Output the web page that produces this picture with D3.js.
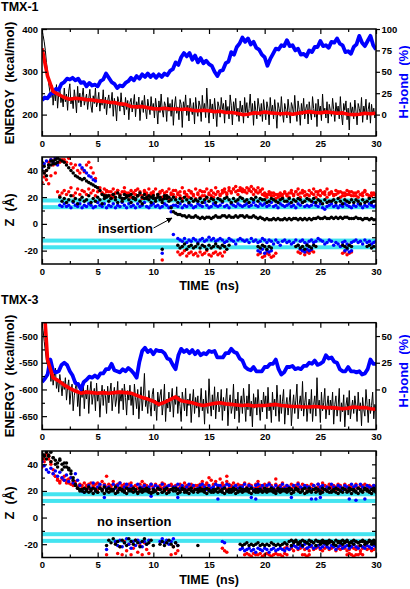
<!DOCTYPE html>
<html><head><meta charset="utf-8">
<script src="https://cdn.jsdelivr.net/npm/d3@7"></script>
<style>
body{margin:0;background:#fff}
svg{display:block}
text{font-family:"Liberation Sans",Arial,Helvetica,sans-serif;font-weight:bold;white-space:pre}
</style></head><body>
<svg id="c" width="410" height="589"></svg>
<script>
// ---------------- DATA ----------------
const timeTicks = [0,5,10,15,20,25,30];
const timeMinor = [2.5,7.5,12.5,17.5,22.5,27.5];
const RAW_STEP = 0.1;  // ns, raw energy traces
const STEP = 0.2;      // ns, Z tracks
const HB_STEP = 0.25;  // ns, H-bond trace
const SM_STEP = 0.5;   // ns, smoothed energy

// TMX-1 energy (kcal/mol), raw trace
const e1Raw = [398,385,370,350,322,300,272,255,240,268,222,258,232,270,215,248,262,228,245,218,
 262,230,248,210,255,272,225,240,214,258,236,204,266,228,250,218,241,262,222,235,
 248,212,238,259,220,205,244,226,262,218,230,252,208,236,222,258,214,241,200,233,
 246,215,228,252,196,238,220,185,242,230,208,251,218,226,199,240,212,233,188,228,
 238,206,224,247,195,230,214,241,186,222,233,205,245,212,190,236,218,200,242,210,
 226,192,238,215,178,232,205,248,212,194,230,221,184,240,208,226,196,235,175,220,
 242,203,218,188,235,224,170,230,210,246,198,222,185,238,215,200,228,178,240,212,
 196,232,220,184,245,208,226,193,262,215,180,236,204,225,190,238,210,172,230,218,
 194,240,212,226,180,234,205,219,190,246,222,176,230,208,238,196,215,184,232,206,
 222,180,240,205,228,192,214,248,200,226,175,232,210,190,238,218,196,226,184,235,
 210,188,230,215,176,240,204,222,190,235,208,168,228,214,196,242,205,182,226,212,
 192,236,210,180,228,218,198,245,206,184,232,212,175,226,200,238,190,215,224,178,
 230,206,188,242,214,194,226,172,236,208,220,186,248,202,215,192,230,180,224,210,
 196,238,212,184,228,205,220,190,242,200,176,226,210,232,188,215,164,228,204,218,
 190,234,208,176,226,214,198,240,182,220,206,236,188,212,228,180,224,200,215,192,
 205];
// TMX-1 energy, running average
const e1Smooth = [355,290,254,247,240,236,238,237,235,234,
 232,231,229,228,225,224,219,218,219,216,
 214,213,215,213,213,212,213,210,209,210,
 209,207,208,205,205,203,200,201,204,203,
 206,204,203,202,203,201,203,205,207,205,
 204,206,205,203,204,201,200,201,203,202,203];
// TMX-1 H-bond (%)
const h1 = [17,20,19,24, 25,30,29,36, 38,42,41,43, 40,42,37,38, 33,37,34,35,
 33,39,41,48, 43,38,36,31, 34,33,37,39, 43,40,45,42, 47,44,48,44,
 47,43,47,44, 48,46,51,53, 61,58,67,72, 68,72,64,69, 61,66,60,63,
 59,57,50,45, 51,52,60,62, 73,70,79,83, 90,85,89,82, 85,78,76,70,
 67,57,65,71, 77,76,81,80, 87,80,81,75, 77,70,71,68, 75,73,79,79,
 86,80,81,78, 85,84,89,83, 81,73,74,71, 79,82,92,84, 80,86,92,81, 76];

// TMX-3 energy (kcal/mol), raw trace
const e3Raw = [-476,-490,-510,-528,-545,-555,-570,-548,-585,-562,-592,-575,-560,-598,-580,-605,-572,-590,-612,-585,
 -600,-578,-620,-595,-582,-628,-605,-590,-640,-612,-598,-585,-632,-608,-650,-595,-615,-588,-636,-602,
 -618,-592,-645,-605,-585,-628,-610,-598,-640,-588,-622,-604,-652,-615,-592,-630,-600,-612,-645,-594,
 -625,-605,-588,-640,-612,-596,-632,-618,-585,-645,-608,-622,-598,-638,-590,-615,-648,-602,-620,-592,
 -630,-605,-648,-590,-615,-636,-600,-655,-620,-595,-640,-612,-570,-632,-618,-645,-602,-628,-650,-610,
 -598,-640,-620,-658,-605,-632,-612,-600,-648,-626,-590,-660,-618,-635,-605,-642,-622,-598,-652,-615,
 -628,-595,-645,-612,-632,-660,-605,-622,-640,-598,-650,-618,-630,-608,-662,-625,-600,-645,-615,-635,
 -612,-652,-628,-598,-640,-618,-665,-602,-632,-645,-580,-625,-650,-610,-638,-595,-655,-622,-605,-642,
 -630,-600,-658,-615,-640,-622,-598,-668,-625,-610,-645,-632,-590,-655,-618,-640,-605,-662,-628,-612,
 -645,-598,-625,-660,-612,-638,-590,-650,-622,-670,-608,-635,-615,-648,-600,-630,-658,-620,-642,-605,
 -632,-612,-655,-596,-640,-625,-662,-605,-638,-618,-650,-592,-628,-660,-610,-645,-622,-600,-665,-630,
 -615,-648,-625,-600,-668,-632,-610,-645,-620,-590,-655,-628,-612,-640,-585,-650,-625,-605,-660,-632,
 -618,-645,-600,-660,-628,-612,-650,-578,-635,-620,-662,-605,-640,-625,-598,-655,-630,-612,-648,-620,
 -638,-605,-665,-628,-612,-650,-632,-598,-660,-625,-642,-610,-670,-630,-615,-648,-602,-655,-635,-620,
 -645,-612,-632,-660,-605,-640,-625,-668,-615,-638,-650,-600,-628,-662,-618,-645,-630,-605,-655,-628,
 -640];
const e3Smooth = [-380,-545,-578,-584,-592,-598,-603,-607,-605,-606,
 -607,-606,-607,-606,-605,-606,-607,-611,-615,-618,
 -622,-628,-624,-619,-614,-621,-623,-625,-628,-630,
 -628,-626,-625,-627,-628,-629,-630,-629,-631,-630,
 -630,-629,-628,-630,-631,-632,-632,-633,-633,-632,
 -633,-634,-634,-635,-636,-635,-633,-634,-634,-636,-637];
const h3 = [7,10,14,28, 17,16,17,23, 25,23,17,13, 6,5,0,7, 9,12,11,13,
 11,15,15,19, 19,24,18,17, 16,19,17,20, 18,15,11,26, 36,39,35,37,
 33,37,36,36, 34,29,28,23, 19,32,38,35, 37,34,37,33, 36,32,34,33,
 36,35,36,30, 30,30,34,34, 38,35,34,29, 27,21,19,18, 21,17,17,17,
 21,21,24,24, 28,19,14,16, 21,21,22,19, 20,19,22,22, 25,24,27,23,
 24,26,32,29, 30,26,25,19, 17,17,21,17, 17,16,17,14, 15,19,28,24, 24];

const e1Ticks = [400,300,200], e1Minor = [350,250];
const h1Ticks = [0,25,50,75,100];
const e3Ticks = [-500,-550,-600,-650], e3Minor = [-525,-575,-625];
const h3Ticks = [0,25,50];
const zTicks = [40,20,0,-20], zMinor = [30,10,-10];
const zAll = [-20,-10,0,10,20,30,40];
const membraneBands = [[16,19],[11,14],[-14,-11],[-19,-16]];

// TMX-1 Z (Å) tracks: {t0 (ns), z values every STEP}
const z1Red = [
 {t0:0, z:[44,38,33,30,36,44,38,24,21,23, 25,22,24,27,21,23,26,22,25,24, 22,26,23,25,21,24,27,23,22,25,
  24,21,26,23,25,22,24,27,23,21, 25,23,22,26,24,21,25,23,26,22, 24,26,22,23,25,21,24,26,23,22,
  25,22,24,27,23,21,25,24,22,26, 23,25,21,24,26,22,25,23,27,24, 22,25,26,23,27,24,26,28,25,27,
  26,24,27,25,28,26,24,27,25,26, 23,22,24,21,23,22,20,23,22,24, 21,23,25,22,24,26,23,25,24,22,
  25,23,26,24,22,25,23,24,26,23, 24,22,25,23,24,21,23,25,22,24, 23,21,24,22,23,25,22,21,23,22, 22]},
 {t0:0, z:[31,35,40,46,48,47,49,45,46,48, 48,46,49,45,42,44,40,38,41,39, 44,46,42,38,34,27,25,23,26,24,
  21,24,20,23,25,22,19,24,21,23, 20,23,25,21,22,19,24,22,20,23, 22,19,21,24,20,23,21,19,22,25,
  20,23,21,19,24,22,20,23,21,19, 22,20,24,21,19,23,21,20,22,24, 21,23,24,22,25,23,26,24,22,25,
  24,25,23,26,24,22,25,23,24,22, 21,20,22,23,21,19,22,21,20,23, 22,20,23,21,24,22,20,23,21,22,
  21,23,22,20,24,21,23,22,20,22, 23,21,22,24,20,23,21,22,24,21, 21,23,20,22,21,24,22,20,21,23, 21]},
 {t0:12.2, z:[-21,-23,-22,-20,-24,-22,-21,-23,-22,-24,-21,-23,-22,-20,-23,-24,-22,-21,-23,-22,-24,-21]},
 {t0:19.4, z:[-23,-22,-25,-24,-22,-23,-25,-24,-22]},
 {t0:23.0, z:[-21,-22,-20,-23,-21,-22,-20,-21]},
 {t0:27.0, z:[-22,-21,-23,-22,-21]},
 {t0:10.8, z:[-27]}
];
const z1Black = [
 {t0:0, z:[46,43,40,44,47,45,48,46,20,17, 19,16,18,21,17,19,15,18,20,17, 18,21,16,19,17,20,18,15,19,21,
  17,19,22,18,16,20,17,19,21,18, 16,19,18,21,17,15,19,20,18,16, 19,17,20,18,16,19,21,17,18,20,
  18,16,19,17,20,18,16,19,17,18, 17,19,16,18,20,17,19,18,16,19, 18,17,19,20,18,16,19,17,18,20,
  19,17,18,16,19,18,20,17,19,18, 18,16,17,19,18,17,16,18,19,17, 17,19,16,18,17,19,18,16,17,19,
  18,17,19,16,18,17,15,18,16,17, 17,18,16,19,17,15,18,17,16,18, 16,18,17,15,18,16,17,19,16,17, 17]},
 {t0:0, z:[40,38,36,42,44,47,45,49,48,47, 46,44,42,40,38,36,35,34,33,34, 32,31,30,29,28,27,25,22,21,20,
  21,19,22,20,23,21,19,22,20,21, 22,20,19,21,23,20,22,19,21,20, 21,19,22,20,18,21,19,20,12,9,
  8,7,7,6,6,5,6,5,5,6, 5,4,5,4,5,5,4,5,6,5, 5,6,6,5,6,5,5,6,5,6,
  6,5,6,5,5,6,5,4,5,4, 3,4,3,3,4,3,4,3,3,4, 3,4,3,4,4,3,4,3,4,3,
  4,3,4,4,5,4,4,5,4,4, 5,4,5,4,5,4,5,5,4,4, 4,5,4,4,3,4,4,3,4,3, 3]},
 {t0:12.2, z:[-16,-18,-17,-15,-19,-17,-16,-18,-17,-15,-18,-16,-17,-19,-16,-18,-17,-15,-17,-18,-16,-17,-19,-16]},
 {t0:19.4, z:[-17,-18,-16,-17,-19,-17,-18]},
 {t0:22.8, z:[-17,-16,-18,-17,-19,-16,-17,-18,-16,-17]},
 {t0:27.0, z:[-16,-17,-18,-16,-17]},
 {t0:29.2, z:[-17,-16,-18,-17]},
 {t0:10.8, z:[-19]}
];
const z1Blue = [
 {t0:0, z:[42,45,47,44,48,46,49,44,14,13, 15,13,14,12,16,14,13,15,12,14, 13,15,14,12,13,16,14,13,15,12,
  14,13,15,12,14,13,16,14,12,15, 13,14,12,15,13,14,16,13,12,14, 15,13,14,12,13,15,14,12,13,14,
  14,13,15,12,14,13,15,14,12,13, 15,14,13,16,14,12,13,15,14,13, 14,16,13,14,12,15,14,13,15,14,
  13,14,15,13,14,16,14,13,15,14, 15,13,14,16,13,14,12,15,14,13, 14,15,13,14,12,15,14,16,13,14,
  13,14,16,14,13,15,12,11,13,14, 15,13,14,12,14,13,15,14,13,12, 14,13,15,14,12,14,13,15,14,13, 14]},
 {t0:12.2, z:[-11,-12,-13,-11,-14,-12,-13,-11,-12,-14, -12,-11,-13,-12,-10,-12,-11,-13,-12,-11,
  -12,-14,-13,-11,-12,-13,-15,-12,-11,-12, -13,-12,-14,-11,-13,-12,-14,-13,-11,-12,
  -14,-12,-13,-15,-12,-14,-16,-13,-12,-14, -13,-15,-14,-12,-16,-13,-12,-14,-15,-13,
  -12,-14,-13,-11,-12,-13,-15,-14,-12,-13, -16,-14,-15,-17,-14,-13,-15,-16,-14,-13,
  -12,-14,-13,-15,-12,-14,-13,-15,-14,-13]},
 {t0:3.4, z:[44,42,40,38,36,35,33,32]},
 {t0:19.4, z:[-20,-21,-19,-22,-20,-21,-20]},
 {t0:23.2, z:[-19,-20,-21,-19,-20,-19]},
 {t0:27.2, z:[-20,-19,-21,-20]},
 {t0:10.8, z:[-22]},
 {t0:11.6, z:[9,-8]}
];

// TMX-3 Z (Å) tracks
const z3Red = [
 {t0:0, z:[45,42,47,44,40,36,31,29,27,30, 28,26,29,25,24,27,23,25,22,26, 24,22,26,23,25,21,24,27,23,22,
  25,23,27,24,22,26,23,25,24,22, 26,23,24,22,25,27,23,24,22,25, 23,25,22,24,26,23,21,24,25,23,
  24,22,25,23,26,24,22,25,23,24, 23,25,27,24,26,30,28,25,27,24, 29,26,24,27,25,23,26,24,25,23,
  24,26,23,25,24,22,25,27,24,23, 25,23,26,24,22,25,23,24,26,23, 24,22,25,23,24,26,23,25,22,24,
  23,25,24,22,25,23,26,24,23,25, 24,22,23,25,24,22,25,23,24,22, 23,25,22,24,23,25,22,24,23,24, 23]},
 {t0:0, z:[38,44,48,46,42,33,31,28,26,29, 31,28,26,30,27,25,23,21,24,22, 23,25,21,24,22,26,23,21,25,23,
  22,24,21,23,25,22,24,21,23,25, 23,21,24,22,20,23,25,22,21,24, 22,24,21,23,22,25,23,21,24,22,
  23,21,24,22,23,21,24,23,22,21, 24,22,23,21,25,23,22,24,21,23, 22,24,23,21,22,24,21,23,22,24,
  23,21,22,24,23,21,22,23,24,21, 22,24,21,23,22,21,23,24,22,21, 23,21,22,24,21,23,22,21,23,22,
  21,22,24,21,23,22,21,24,22,23, 22,24,21,23,22,21,23,22,21,23, 21,23,22,21,24,22,21,23,22,21, 22]},
 {t0:5.8, z:[-28]},
 {t0:6.6, z:[-19,-27,-22,-28,-18,-25,-20,-28,-23,-17,-26,-21,-28,-19,-24,-27]},
 {t0:11.6, z:[-28,-22,-27,-25]},
 {t0:16.2, z:[-23,-25,-26]},
 {t0:18.2, z:[-28,-27,-28,-29,-27,-28,-28,-27,-29,-28,-27,-28,-29,-28,-27,-28,-28,-29,-27,-28]},
 {t0:21.8, z:[-23,-22,-24,-23,-25,-22,-24,-23,-22,-24, -23,-25,-22,-24,-23,-22,-24,-25,-23,-22,
  -24,-23,-22,-25,-23,-24,-22,-23,-25,-24, -22,-23,-24,-22,-25,-23,-22,-24,-23,-25, -24,-22]},
 {t0:23.4, z:[-28,-28,-29,-28]},
 {t0:27.4, z:[-28,-27,-28,-29,-28,-28,-27,-28]},
 {t0:5.8, z:[31]}, {t0:16.6, z:[31]}, {t0:21.0, z:[29]}
];
const z3Black = [
 {t0:0, z:[48,46,44,47,49,45,43,41,44,40, 38,41,37,35,30,25,22,20,21,19, 20,19,21,18,20,19,22,20,18,21,
  19,21,20,18,19,21,20,19,18,20, 21,19,20,18,20,19,21,20,19,18, 19,20,18,21,19,20,18,19,21,20,
  20,18,19,21,19,20,18,20,19,21, 19,20,21,19,18,20,19,21,20,19, 20,19,18,20,21,19,20,18,19,20,
  19,21,20,19,18,20,19,21,20,19, 20,19,21,20,19,18,20,19,21,20, 19,20,18,19,21,20,19,20,18,19,
  20,19,21,19,20,18,19,21,20,19, 19,20,19,18,20,19,21,19,20,18, 20,19,18,20,19,21,20,19,18,20, 19]},
 {t0:0, z:[44,47,49,46,42,45,40,38,43,36, 41,38,36,33,28,24,22,21,20,22, 21,23,20,22,21,19,22,21,23,20,
  22,20,21,23,20,22,21,20,22,21, 20,22,21,19,22,21,20,22,21,19, 21,20,22,21,19,21,22,20,21,22,
  22,21,20,22,21,19,21,22,20,21, 21,22,20,21,22,21,20,19,21,22, 20,21,22,20,19,21,22,21,20,22,
  21,20,22,21,22,20,21,19,21,20, 22,21,20,22,21,20,22,21,20,21, 21,22,21,20,22,21,19,21,22,20,
  22,20,21,22,21,20,22,21,20,22, 20,21,22,21,20,22,21,20,22,21, 21,20,22,21,20,22,21,20,21,22, 21]},
 {t0:5.8, z:[-21,-17,-19,-16,-20,-18,-22,-17,-19,-21,-16,-18,-20,-17,-19,-22,-18,-16,-20,-19,-17,-21]},
 {t0:10.6, z:[-20,-18,-21,-19,-17,-20,-22,-19,-21]},
 {t0:14.0, z:[-21]},
 {t0:17.8, z:[-20,-21,-20,-19,-21,-20,-21,-20,-19,-21, -20,-21,-20,-21,-19,-20,-21,-20,-21,-20,
  -19,-20,-18,-21,-19,-18,-20,-19,-21,-18, -19,-20,-18,-19,-21,-18,-20,-19,-18,-20,
  -19,-18,-20,-21,-19,-18,-20,-19,-18,-21, -19,-20,-18,-19,-21,-18,-20,-19,-18,-20, -19,-20]},
 {t0:22.4, z:[-17,-18,-17,-19,-18,-17,-18,-19,-17,-18, -19,-17,-18,-18,-17,-19,-18,-17,-18,-19,
  -17,-18,-19,-17,-18,-17,-19,-18,-17,-18, -19,-18,-17,-18,-19,-17,-18,-17,-18]}
];
const z3Blue = [
 {t0:0, z:[42,39,36,34,37,33,35,31,34,30, 28,32,27,30,26,33,28,24,20,19, 21,24,22,26,20,23,25,21,24,22,
  23,21,25,22,24,26,21,23,25,22, 24,22,21,25,23,22,24,21,23,25, 22,24,23,21,25,22,23,24,21,23,
  23,25,22,24,21,23,25,22,24,21, 22,24,25,23,21,24,22,23,25,24, 24,22,23,25,24,21,23,24,22,23,
  23,25,22,24,23,21,24,25,22,24, 22,24,25,23,22,24,21,23,25,22, 24,23,21,24,22,25,23,22,24,23,
  23,21,24,22,25,23,24,21,23,22, 25,23,22,24,23,21,24,23,22,25, 23,24,22,25,23,22,24,23,22,24, 23]},
 {t0:5.8, z:[-24]},
 {t0:6.6, z:[-18,-21,-17,-22,-19,-16,-20,-23,-18,-21,-17,-19,-22,-18,-20,-17]},
 {t0:10.6, z:[-18,-16,-19,-17,-20,-18,-16,-19,-21]},
 {t0:16.2, z:[-18,-19]},
 {t0:17.8, z:[-24,-23,-25,-24,-23,-25,-24,-26,-23,-24,-25,-23,-24,-26,-24,-23,-25,-24,-23,-24,-25,-23,-24,-22]},
 {t0:22.6, z:[-21,-22,-23,-21,-22,-20,-23,-22,-21,-23, -22,-21,-23,-22,-20,-22,-23,-21,-22,-24,
  -22,-21,-23,-22,-21,-23,-22,-20,-22,-23, -21,-22,-23,-21,-22,-23,-21,-22]},
 {t0:5.6, z:[15]}, {t0:9.8, z:[16]}, {t0:12.2, z:[15]}, {t0:15.8, z:[14]}, {t0:18.8, z:[15]},
 {t0:19.2, z:[14]}, {t0:22.4, z:[15]}, {t0:24.2, z:[14]}, {t0:24.6, z:[14]}, {t0:25.0, z:[15]},
 {t0:27.6, z:[14]}, {t0:28.2, z:[13]}, {t0:29.0, z:[14]}
];

// ---------------- DRAWING ----------------
const RED = "#ff0000", BLUE = "#0000ff", CYAN = "#44e4f0";
const svg = d3.select("#c");
const x = d3.scaleLinear().domain([0, 30]).range([42, 376]);
const [X0, X1] = x.range();
const defs = svg.append("defs");
defs.append("marker").attr("id","arr").attr("viewBox","0 0 10 10").attr("refX",9).attr("refY",5)
  .attr("markerWidth",6).attr("markerHeight",6).attr("orient","auto").attr("markerUnits","userSpaceOnUse")
  .append("path").attr("d","M0,0L10,5L0,10z").attr("fill","#000");

function panel(id, top, bottom, dom) {
  const y = d3.scaleLinear().domain(dom).range([bottom, top]);
  defs.append("clipPath").attr("id", "cp" + id).append("rect")
    .attr("x", X0).attr("y", top).attr("width", X1 - X0).attr("height", bottom - top);
  const plot = svg.append("g").attr("clip-path", `url(#cp${id})`);
  return { y, plot, top, bottom };
}
function ax(gen, tx, ty, fs) {
  const g = svg.append("g").attr("transform", `translate(${tx},${ty})`).call(gen);
  g.select(".domain").remove();
  g.attr("font-size", fs || 9.5);
  g.selectAll("line").attr("stroke-width", 1.2);
  return g;
}
function frame(p, leftMajor, leftMinor, rightZ) {
  const fmt = d => String(d);
  ax(d3.axisBottom(x).tickValues(timeTicks).tickSize(-5).tickPadding(4).tickFormat(fmt), 0, p.bottom);
  ax(d3.axisBottom(x).tickValues(timeMinor).tickSize(-3).tickFormat(""), 0, p.bottom);
  ax(d3.axisTop(x).tickValues(timeTicks).tickSize(-5).tickFormat(""), 0, p.top);
  ax(d3.axisTop(x).tickValues(timeMinor).tickSize(-3).tickFormat(""), 0, p.top);
  ax(d3.axisLeft(p.y).tickValues(leftMajor).tickSize(-5).tickPadding(4).tickFormat(fmt), X0, 0);
  ax(d3.axisLeft(p.y).tickValues(leftMinor).tickSize(-3).tickFormat(""), X0, 0);
  if (rightZ) ax(d3.axisRight(p.y).tickValues(rightZ).tickSize(-4).tickFormat(""), X1, 0);
  svg.append("rect").attr("x", X0).attr("y", p.top).attr("width", X1 - X0).attr("height", p.bottom - p.top)
    .attr("fill", "none").attr("stroke", "#000").attr("stroke-width", 1.5);
}
function trace(p, yS, data, step, color, w) {
  p.plot.append("path").datum(data)
    .attr("d", d3.line().x((d, i) => x(i * step)).y(d => yS(d)))
    .attr("fill", "none").attr("stroke", color).attr("stroke-width", w)
    .attr("stroke-linejoin", "round");
}
function dots(p, tracks, color) {
  const pts = [];
  tracks.forEach(s => s.z.forEach((v, i) => pts.push([s.t0 + i * STEP, v])));
  p.plot.append("g").selectAll("circle").data(pts).join("circle")
    .attr("cx", d => x(d[0])).attr("cy", d => p.y(d[1])).attr("r", 1.75).attr("fill", color);
}
function bands(p) {
  p.plot.append("g").selectAll("rect").data(membraneBands).join("rect")
    .attr("x", X0).attr("width", X1 - X0)
    .attr("y", d => p.y(d[1])).attr("height", d => p.y(d[0]) - p.y(d[1])).attr("fill", CYAN);
}
function energyPanel(id, top, bottom, dom, hDom, raw, smooth, hb, eTicks, eMinor, hTicks) {
  const p = panel(id, top, bottom, dom);
  const y2 = d3.scaleLinear().domain(hDom).range([bottom, top]);
  trace(p, p.y, raw, RAW_STEP, "#000", 1);
  trace(p, y2, hb, HB_STEP, BLUE, 3.8);
  trace(p, p.y, smooth, SM_STEP, RED, 3.6);
  frame(p, eTicks, eMinor, null);
  ax(d3.axisRight(y2).tickValues(hTicks).tickSize(4).tickPadding(1.5).tickFormat(d => String(d)), X1, 0);
  return p;
}
function zPanel(id, top, bottom, red, black, blue) {
  const p = panel(id, top, bottom, [-30, 50]);
  bands(p);
  dots(p, red, RED);
  dots(p, blue, BLUE);
  dots(p, black, "#000");
  frame(p, zTicks, zMinor, zAll);
  return p;
}
function vlabel(txt, cx, cy, color) {
  svg.append("text").attr("transform", `translate(${cx},${cy}) rotate(-90)`)
    .attr("text-anchor", "middle").attr("font-size", 13).attr("fill", color || "#000").text(txt);
}

// TMX-1
svg.append("text").attr("x", 1).attr("y", 10.5).attr("font-size", 12.5).text("TMX-1");
energyPanel(1, 29, 136, [150, 400], [-25, 100], e1Raw, e1Smooth, h1, e1Ticks, e1Minor, h1Ticks);
vlabel("ENERGY  (kcal/mol)", 14, 83);
vlabel("H-bond  (%)", 407.5, 82, BLUE);
zPanel(2, 157, 264, z1Red, z1Black, z1Blue);
vlabel("Z  (Å)", 13.5, 210);
svg.append("text").attr("x", 209).attr("y", 290).attr("text-anchor", "middle").attr("font-size", 12.5).text("TIME  (ns)");
svg.append("text").attr("x", 98).attr("y", 233).attr("font-size", 13).text("insertion");
svg.append("line").attr("x1", 153.5).attr("y1", 228).attr("x2", 172).attr("y2", 218)
  .attr("stroke", "#000").attr("stroke-width", 1).attr("marker-end", "url(#arr)");

// TMX-3
svg.append("text").attr("x", 1).attr("y", 304).attr("font-size", 12.5).text("TMX-3");
energyPanel(3, 322.7, 429.5, [-675, -475], [-37.5, 62.5], e3Raw, e3Smooth, h3, e3Ticks, e3Minor, h3Ticks);
vlabel("ENERGY  (kcal/mol)", 14, 376);
vlabel("H-bond  (%)", 407.5, 371, BLUE);
zPanel(4, 451, 557.5, z3Red, z3Black, z3Blue);
vlabel("Z  (Å)", 13.5, 503);
svg.append("text").attr("x", 209).attr("y", 584).attr("text-anchor", "middle").attr("font-size", 12.5).text("TIME  (ns)");
svg.append("text").attr("x", 97).attr("y", 526).attr("font-size", 13).text("no insertion");
</script>
</body></html>
